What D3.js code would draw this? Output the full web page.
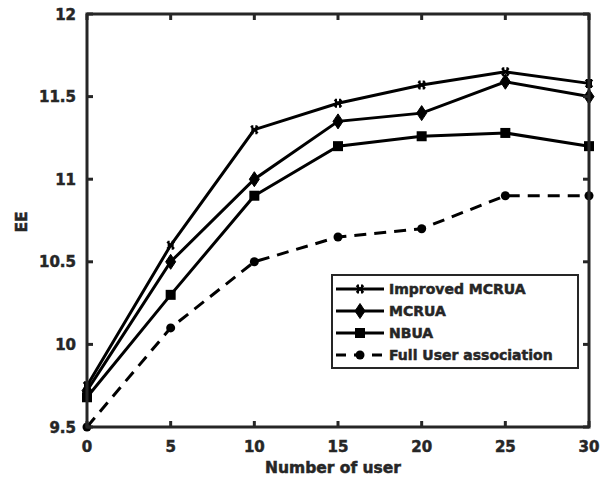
<!DOCTYPE html>
<html lang="en">
<head>
<meta charset="UTF-8">
<title>EE vs Number of user</title>
<script src="https://d3js.org/d3.v7.min.js"></script>
<style>
  body { margin: 0; background: #fff; }
  text { font-family: "DejaVu Sans", "Liberation Sans", sans-serif; font-weight: bold; fill: #262626; stroke: #262626; stroke-width: 0.5px; }
</style>
</head>
<body>
<svg id="chart" width="607" height="481"></svg>
<script>
// data
var users = [0, 5, 10, 15, 20, 25, 30];
var improvedMCRUA = [9.75, 10.6, 11.3, 11.46, 11.57, 11.65, 11.58];
var mcrua = [9.72, 10.5, 11.0, 11.35, 11.4, 11.59, 11.5];
var nbua = [9.68, 10.3, 10.9, 11.2, 11.26, 11.28, 11.2];
var fullUA = [9.5, 10.1, 10.5, 10.65, 10.7, 10.9, 10.9];
var seriesNames = ["Improved MCRUA", "MCRUA", "NBUA", "Full User association"];
var xTicks = [0, 5, 10, 15, 20, 25, 30];
var yTicks = [9.5, 10, 10.5, 11, 11.5, 12];

var svg = d3.select("#chart");
var m = {left: 87, right: 589, top: 14, bottom: 427};

var x = d3.scaleLinear().domain([0, 30]).range([m.left, m.right]);
var y = d3.scaleLinear().domain([9.5, 12]).range([m.bottom, m.top]);

var axisColor = "#262626";

// series
var series = [
  {name: seriesNames[0], values: improvedMCRUA, marker: "star", dash: null},
  {name: seriesNames[1], values: mcrua, marker: "diamond", dash: null},
  {name: seriesNames[2], values: nbua, marker: "square", dash: null},
  {name: seriesNames[3], values: fullUA, marker: "circle", dash: "12,8"}
];

function drawMarker(g, type, cx, cy) {
  if (type === "star") {
    g.append("path")
      .attr("d", "M" + (cx - 3.5) + "," + (cy - 3.5) + "L" + (cx + 3.5) + "," + (cy + 3.5) +
                 "M" + (cx - 3.5) + "," + (cy + 3.5) + "L" + (cx + 3.5) + "," + (cy - 3.5) +
                 "M" + (cx - 2) + "," + (cy - 4.5) + "L" + (cx - 2) + "," + (cy + 4.5) +
                 "M" + (cx + 2) + "," + (cy - 4.5) + "L" + (cx + 2) + "," + (cy + 4.5))
      .attr("stroke", "#000").attr("stroke-width", 2).attr("fill", "none");
  } else if (type === "diamond") {
    g.append("path")
      .attr("d", "M" + cx + "," + (cy - 7.5) + "L" + (cx + 5) + "," + cy + "L" + cx + "," + (cy + 7.5) + "L" + (cx - 5) + "," + cy + "Z")
      .attr("fill", "#000").attr("stroke", "#000").attr("stroke-width", 1);
  } else if (type === "square") {
    g.append("rect").attr("x", cx - 5).attr("y", cy - 5).attr("width", 10).attr("height", 10).attr("fill", "#000");
  } else {
    g.append("circle").attr("cx", cx).attr("cy", cy).attr("r", 4.5).attr("fill", "#000");
  }
}

var line = d3.line().x(function(d, i) { return x(users[i]); }).y(function(d) { return y(d); });

var plot = svg.append("g");
series.forEach(function(s) {
  plot.append("path")
    .datum(s.values)
    .attr("d", line)
    .attr("fill", "none")
    .attr("stroke", "#000")
    .attr("stroke-width", 3)
    .attr("stroke-dasharray", s.dash);
  s.values.forEach(function(v, i) { drawMarker(plot, s.marker, x(users[i]), y(v)); });
});

// box with inward ticks
var ax = svg.append("g");
ax.append("rect")
  .attr("x", m.left).attr("y", m.top)
  .attr("width", m.right - m.left).attr("height", m.bottom - m.top)
  .attr("fill", "none").attr("stroke", axisColor).attr("stroke-width", 3);

xTicks.forEach(function(t) {
  ax.append("line").attr("x1", x(t)).attr("x2", x(t)).attr("y1", m.bottom).attr("y2", m.bottom - 6)
    .attr("stroke", axisColor).attr("stroke-width", 3);
  ax.append("line").attr("x1", x(t)).attr("x2", x(t)).attr("y1", m.top).attr("y2", m.top + 6)
    .attr("stroke", axisColor).attr("stroke-width", 3);
  ax.append("text").attr("x", x(t)).attr("y", 452).attr("text-anchor", "middle")
    .attr("font-size", 15).text(t);
});
yTicks.forEach(function(t) {
  ax.append("line").attr("x1", m.left).attr("x2", m.left + 6).attr("y1", y(t)).attr("y2", y(t))
    .attr("stroke", axisColor).attr("stroke-width", 3);
  ax.append("line").attr("x1", m.right).attr("x2", m.right - 6).attr("y1", y(t)).attr("y2", y(t))
    .attr("stroke", axisColor).attr("stroke-width", 3);
  ax.append("text").attr("x", 76).attr("y", y(t) + 5.5).attr("text-anchor", "end")
    .attr("font-size", 15).text(t);
});

svg.append("text").attr("x", 333).attr("y", 473).attr("text-anchor", "middle")
  .attr("font-size", 15.5).text("Number of user");
svg.append("text").attr("transform", "translate(27,222) rotate(-90)")
  .attr("text-anchor", "middle").attr("font-size", 15.5).text("EE");

// legend
var lg = svg.append("g");
lg.append("rect").attr("x", 332).attr("y", 275).attr("width", 246).attr("height", 93)
  .attr("fill", "#fff").attr("stroke", axisColor).attr("stroke-width", 2);
series.forEach(function(s, i) {
  var ly = 289 + i * 22;
  lg.append("line").attr("x1", 336).attr("x2", 384).attr("y1", ly).attr("y2", ly)
    .attr("stroke", "#000").attr("stroke-width", 3).attr("stroke-dasharray", s.dash ? "10,8" : null);
  drawMarker(lg, s.marker, 360, ly);
  lg.append("text").attr("x", 389).attr("y", ly + 5).attr("font-size", 14).text(s.name);
});
</script>
</body>
</html>
